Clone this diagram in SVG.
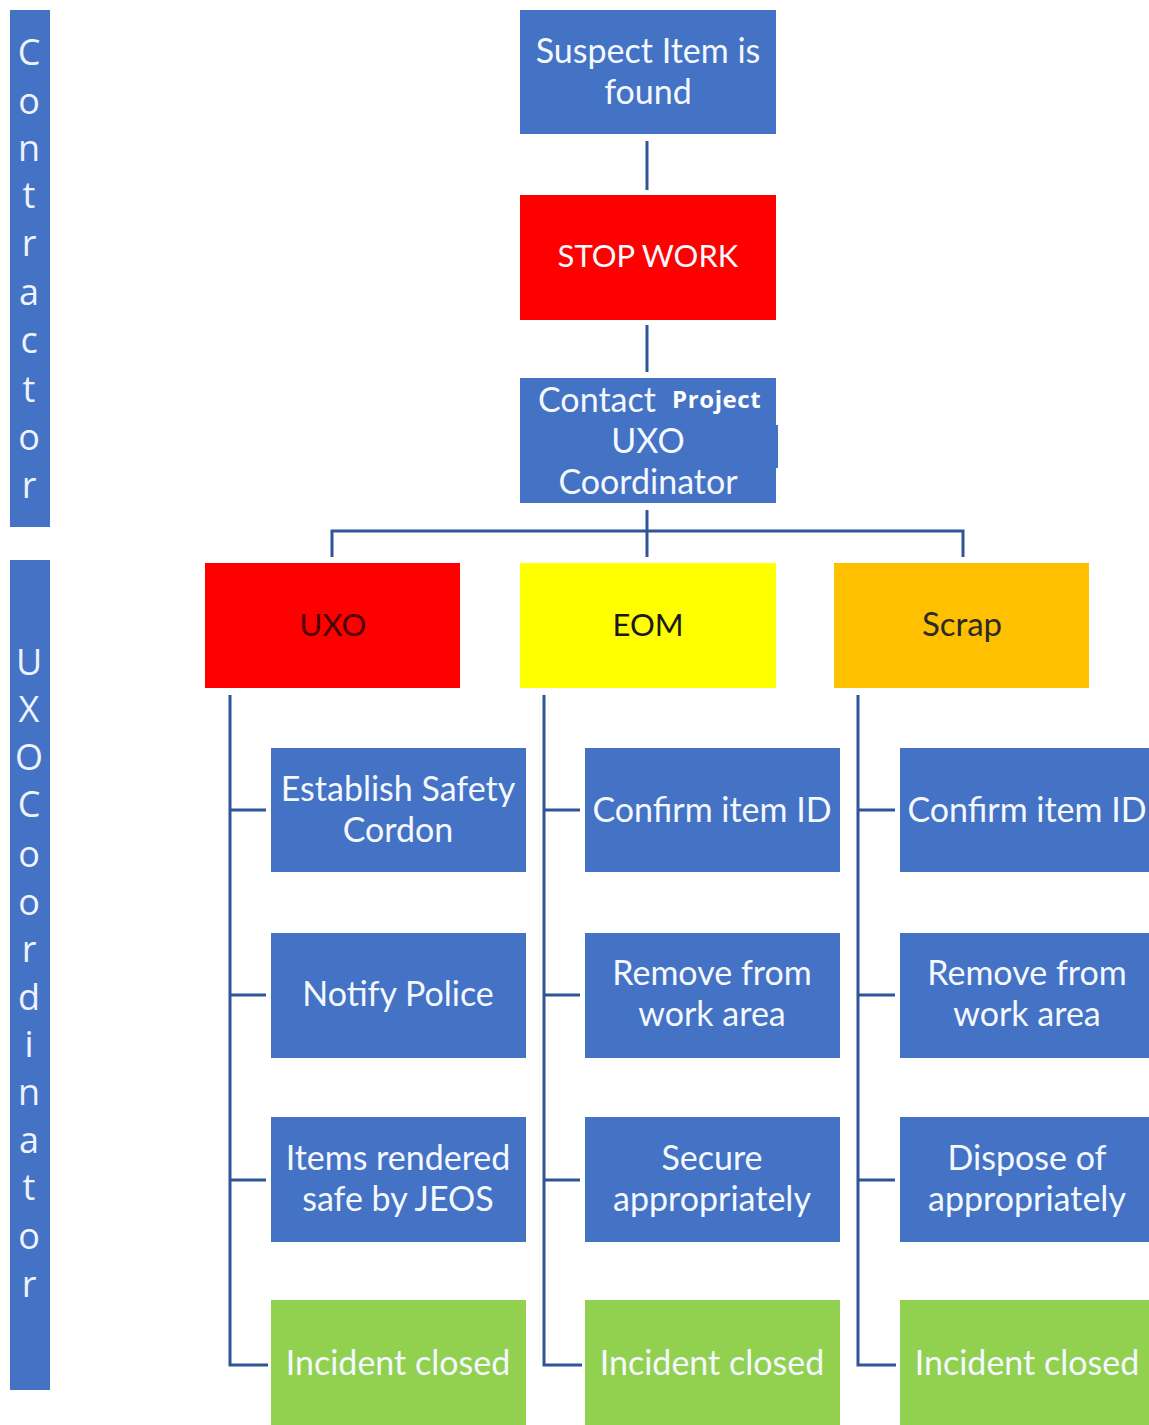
<svg xmlns="http://www.w3.org/2000/svg" width="1149" height="1425" viewBox="0 0 1149 1425">
<style>
.t{font-family:Lato,"Open Sans","Liberation Sans",sans-serif;font-size:34px;text-anchor:middle;fill:#f4f8ff}
.h{font-size:31px}
.side{font-family:"Open Sans","Liberation Sans",sans-serif;font-size:36px;text-anchor:middle;fill:#eef3ff}
.dk{fill:#1a1a1a}
.blue{fill:#4472c4}
.conn{stroke:#2f5597;stroke-width:3;fill:none}
</style>
<rect width="1149" height="1425" fill="#ffffff"/>
<g id="lane-contractor">
<rect x="10" y="10" width="40" height="517" class="blue"/>
<text class="side"><tspan x="29" y="65">C</tspan><tspan x="29" y="114">o</tspan><tspan x="29" y="161">n</tspan><tspan x="29" y="208">t</tspan><tspan x="29" y="256">r</tspan><tspan x="29" y="305">a</tspan><tspan x="29" y="353">c</tspan><tspan x="29" y="402">t</tspan><tspan x="29" y="450">o</tspan><tspan x="29" y="498">r</tspan></text>
</g>
<g id="lane-uxo-coordinator">
<rect x="10" y="560" width="40" height="830" class="blue"/>
<text class="side"><tspan x="29" y="675">U</tspan><tspan x="29" y="722">X</tspan><tspan x="29" y="770">O</tspan><tspan x="29" y="817">C</tspan><tspan x="29" y="867">o</tspan><tspan x="29" y="915">o</tspan><tspan x="29" y="962">r</tspan><tspan x="29" y="1010">d</tspan><tspan x="29" y="1057">i</tspan><tspan x="29" y="1105">n</tspan><tspan x="29" y="1153">a</tspan><tspan x="29" y="1200">t</tspan><tspan x="29" y="1249">o</tspan><tspan x="29" y="1297">r</tspan></text>
</g>
<g id="connectors">
<line class="conn" x1="647" y1="141" x2="647" y2="190"/>
<line class="conn" x1="647" y1="325" x2="647" y2="372"/>
<line class="conn" x1="647" y1="510" x2="647" y2="557"/>
<polyline class="conn" points="332,557 332,531 963,531 963,557"/>
<polyline class="conn" points="230,695 230,1365 268,1365"/>
<line class="conn" x1="230" y1="810" x2="266" y2="810"/>
<line class="conn" x1="230" y1="995" x2="266" y2="995"/>
<line class="conn" x1="230" y1="1180" x2="266" y2="1180"/>
<polyline class="conn" points="544,695 544,1365 582,1365"/>
<line class="conn" x1="544" y1="810" x2="580" y2="810"/>
<line class="conn" x1="544" y1="995" x2="580" y2="995"/>
<line class="conn" x1="544" y1="1180" x2="580" y2="1180"/>
<polyline class="conn" points="858,695 858,1365 896,1365"/>
<line class="conn" x1="858" y1="810" x2="895" y2="810"/>
<line class="conn" x1="858" y1="995" x2="895" y2="995"/>
<line class="conn" x1="858" y1="1180" x2="895" y2="1180"/>
</g>
<g id="suspect-item">
<rect x="520" y="10" width="256" height="124" class="blue"/>
<text class="t"><tspan x="648" y="63">Suspect Item is</tspan><tspan x="648" y="104">found</tspan></text>
</g>
<g id="stop-work">
<rect x="520" y="195" width="256" height="125" fill="#ff0000"/>
<text class="t h" x="648" y="267">STOP WORK</text>
</g>
<g id="contact-coordinator">
<rect x="520" y="378" width="256" height="125" class="blue"/>
<rect x="775" y="425" width="3" height="43" class="blue"/>
<text class="t" x="538" y="412" style="text-anchor:start">Contact</text>
<text x="672" y="408" style="font-family:'Open Sans','Liberation Sans',sans-serif;font-size:24px;font-weight:bold;letter-spacing:0.6px;fill:#ffffff">Project</text>
<text class="t"><tspan x="648" y="453">UXO</tspan><tspan x="648" y="494">Coordinator</tspan></text>
</g>
<g id="uxo">
<rect x="205" y="563" width="255" height="125" fill="#ff0000"/>
<text class="t h" x="333" y="636" style="fill:#4a0000">UXO</text>
</g>
<g id="eom">
<rect x="520" y="563" width="256" height="125" fill="#ffff00"/>
<text class="t h dk" x="648" y="636">EOM</text>
</g>
<g id="scrap">
<rect x="834" y="563" width="255" height="125" fill="#ffc000"/>
<text class="t" x="962" y="636" style="fill:#2a2a2a;font-size:33px">Scrap</text>
</g>
<g id="uxo-cordon">
<rect x="271" y="748" width="255" height="124" class="blue"/>
<text class="t"><tspan x="398" y="801">Establish Safety</tspan><tspan x="398" y="842">Cordon</tspan></text>
</g>
<g id="uxo-police">
<rect x="271" y="933" width="255" height="125" class="blue"/>
<text class="t" x="398" y="1006">Notify Police</text>
</g>
<g id="uxo-jeos">
<rect x="271" y="1117" width="255" height="125" class="blue"/>
<text class="t"><tspan x="398" y="1170">Items rendered</tspan><tspan x="398" y="1211">safe by JEOS</tspan></text>
</g>
<g id="uxo-closed">
<rect x="271" y="1300" width="255" height="125" fill="#92d050"/>
<text class="t" x="398" y="1375">Incident closed</text>
</g>
<g id="eom-confirm">
<rect x="585" y="748" width="255" height="124" class="blue"/>
<text class="t" x="712" y="822">Confirm item ID</text>
</g>
<g id="eom-remove">
<rect x="585" y="933" width="255" height="125" class="blue"/>
<text class="t"><tspan x="712" y="985">Remove from</tspan><tspan x="712" y="1026">work area</tspan></text>
</g>
<g id="eom-secure">
<rect x="585" y="1117" width="255" height="125" class="blue"/>
<text class="t"><tspan x="712" y="1170">Secure</tspan><tspan x="712" y="1211">appropriately</tspan></text>
</g>
<g id="eom-closed">
<rect x="585" y="1300" width="255" height="125" fill="#92d050"/>
<text class="t" x="712" y="1375">Incident closed</text>
</g>
<g id="scrap-confirm">
<rect x="900" y="748" width="255" height="124" class="blue"/>
<text class="t" x="1027" y="822">Confirm item ID</text>
</g>
<g id="scrap-remove">
<rect x="900" y="933" width="255" height="125" class="blue"/>
<text class="t"><tspan x="1027" y="985">Remove from</tspan><tspan x="1027" y="1026">work area</tspan></text>
</g>
<g id="scrap-dispose">
<rect x="900" y="1117" width="255" height="125" class="blue"/>
<text class="t"><tspan x="1027" y="1170">Dispose of</tspan><tspan x="1027" y="1211">appropriately</tspan></text>
</g>
<g id="scrap-closed">
<rect x="900" y="1300" width="255" height="125" fill="#92d050"/>
<text class="t" x="1027" y="1375">Incident closed</text>
</g>
</svg>
